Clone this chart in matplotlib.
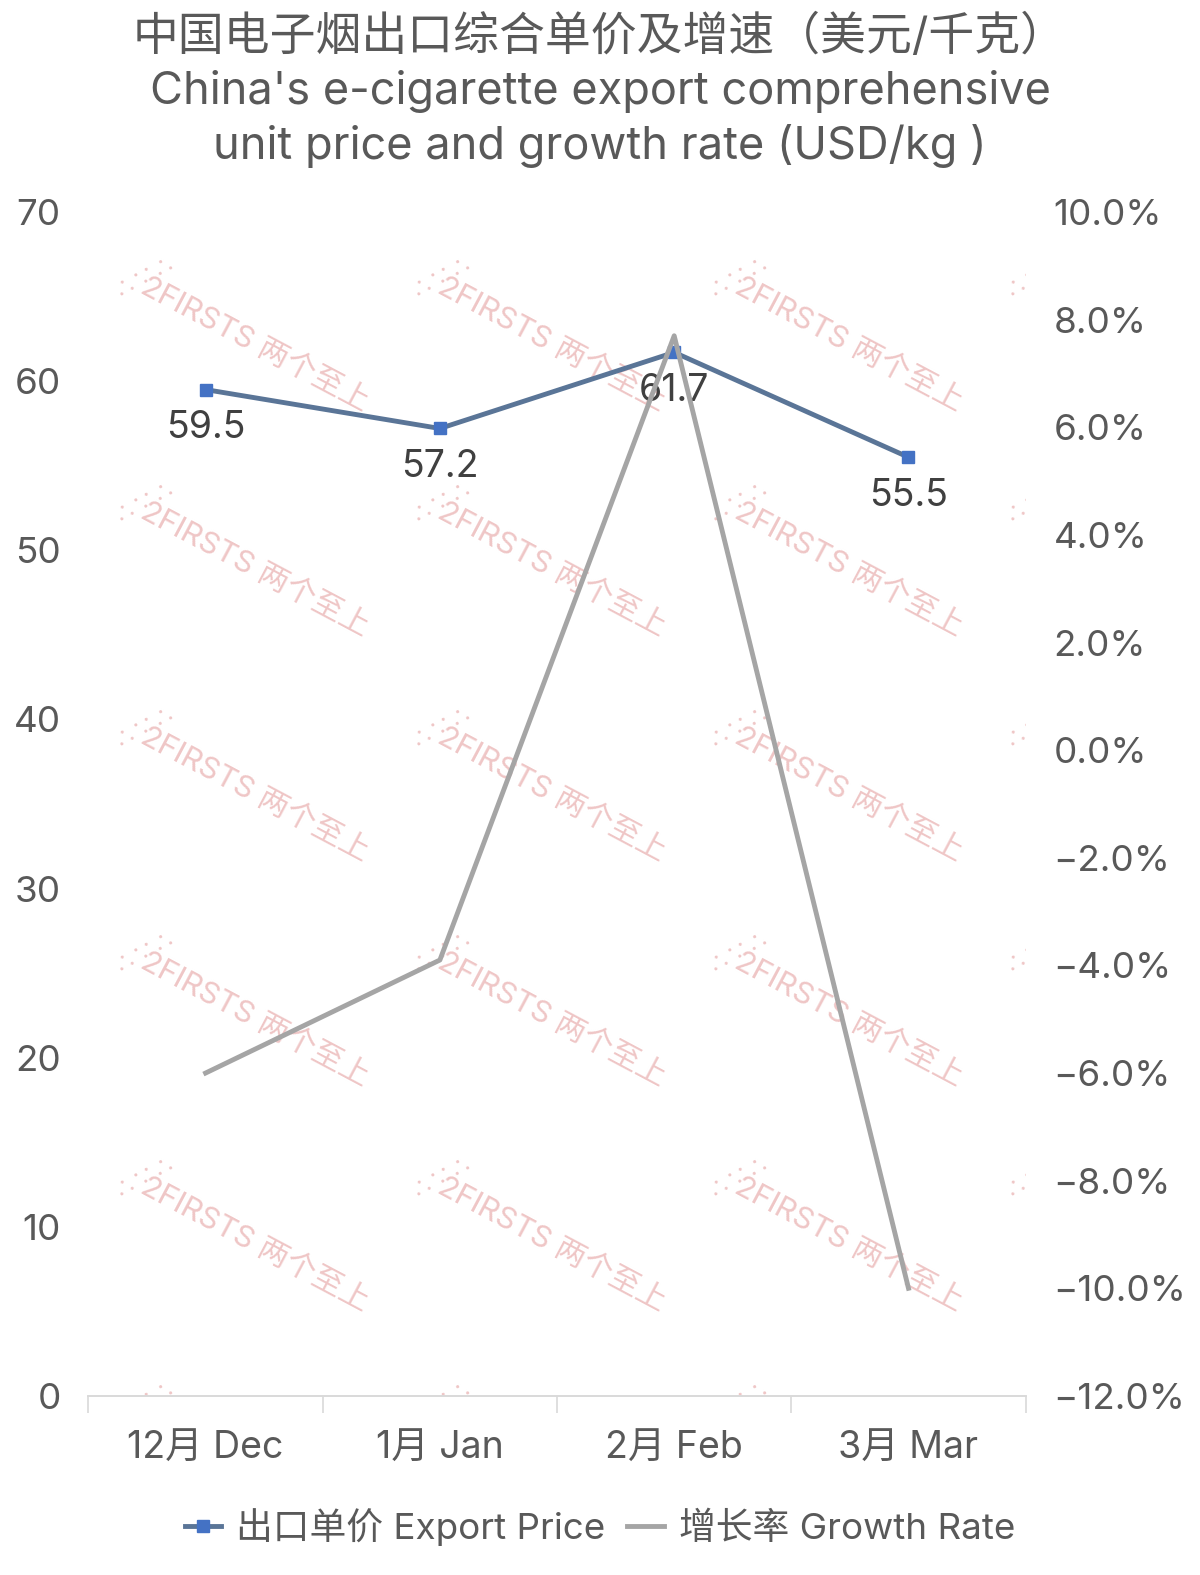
import numpy as np
import matplotlib.pyplot as plt
from matplotlib.ticker import FuncFormatter, MultipleLocator

plt.rcParams['font.family'] = ['Inter', 'Noto Sans CJK SC', 'DejaVu Sans']

months = ["12月 Dec", "1月 Jan", "2月 Feb", "3月 Mar"]
price = [59.5, 57.2, 61.7, 55.5]
growth = [-6.0, -3.9, 7.7, -10.0]

text_c = '#595959'
fig = plt.figure(figsize=(12, 15.75), dpi=100)
ax = fig.add_axes([0.0737, 0.1137, 0.781, 0.7517])
ax2 = ax.twinx()

x = np.arange(len(months))

# watermark tiles (clipped to the plot area)
for wx in [255, 552, 849, 1146]:
    for wy in [345, 570, 795, 1020, 1245, 1470]:
        if wx < 1000 and wy < 1400:
            ax.text(wx / 1200, 1 - wy / 1575, "2FIRSTS 两个至上", rotation=-28,
                    transform=fig.transFigure, color='#EFC6C6', fontsize=22,
                    ha='center', va='center', zorder=0, clip_on=True)
        ax.text((wx - 110) / 1200, 1 - (wy - 68) / 1575, "∴∵∴", rotation=28,
                transform=fig.transFigure, color='#EFC6C6', fontsize=16,
                ha='center', va='center', zorder=0, clip_on=True)

l1, = ax.plot(x, price, color='#5A7597', lw=3.5, marker='s', ms=9,
              mfc='#4472C4', mec='#4472C4', zorder=3)
for xi, v in zip(x, price):
    ax.annotate(f"{v}", (xi, v), xytext=(0, -28), textcoords='offset points',
                ha='center', va='center', fontsize=27, color='#404040')

l2, = ax2.plot(x, growth, color='#A5A5A5', lw=3.5, zorder=4)

ax.set_xlim(-0.5, 3.5)
ax.set_ylim(0, 70)
ax.yaxis.set_major_locator(MultipleLocator(10))
ax2.set_ylim(-12, 10)
ax2.yaxis.set_major_locator(MultipleLocator(2))
ax2.yaxis.set_major_formatter(FuncFormatter(lambda v, p: f"{v:.1f}%".replace('-', '−')))

ax.set_xticks(x)
ax.set_xticklabels(months)
ax.set_xticks(np.arange(-0.5, 4, 1), minor=True)
ax.tick_params(axis='x', which='major', length=0, pad=25, labelsize=27, labelcolor=text_c)
ax.tick_params(axis='x', which='minor', length=12, color='#D9D9D9', width=1.2)
ax.tick_params(axis='y', length=0, labelsize=26.5, labelcolor=text_c, pad=20)
ax2.tick_params(axis='y', length=0, labelsize=26.5, labelcolor=text_c, pad=20)

for a in (ax, ax2):
    for s in ['top', 'left', 'right']:
        a.spines[s].set_visible(False)
    a.spines['bottom'].set_color('#D9D9D9')
    a.spines['bottom'].set_linewidth(1.2)

fig.text(0.5, 1 - 37 / 1575, "中国电子烟出口综合单价及增速（美元/千克）", ha='center', va='center',
         fontsize=33, color=text_c)
fig.text(0.5, 1 - 119 / 1575, "China's e-cigarette export comprehensive\nunit price and growth rate (USD/kg )",
         ha='center', va='center', fontsize=32.5, color=text_c, linespacing=1.3)

fig.legend([l1, l2], ["出口单价 Export Price", "增长率 Growth Rate"], loc='center',
           bbox_to_anchor=(0.5, 1 - 1527 / 1575), ncol=2, frameon=False,
           fontsize=26.5, labelcolor=text_c, handlelength=1.0, handletextpad=0.4,
           columnspacing=0.6)

fig.savefig('out.png', dpi=100)
